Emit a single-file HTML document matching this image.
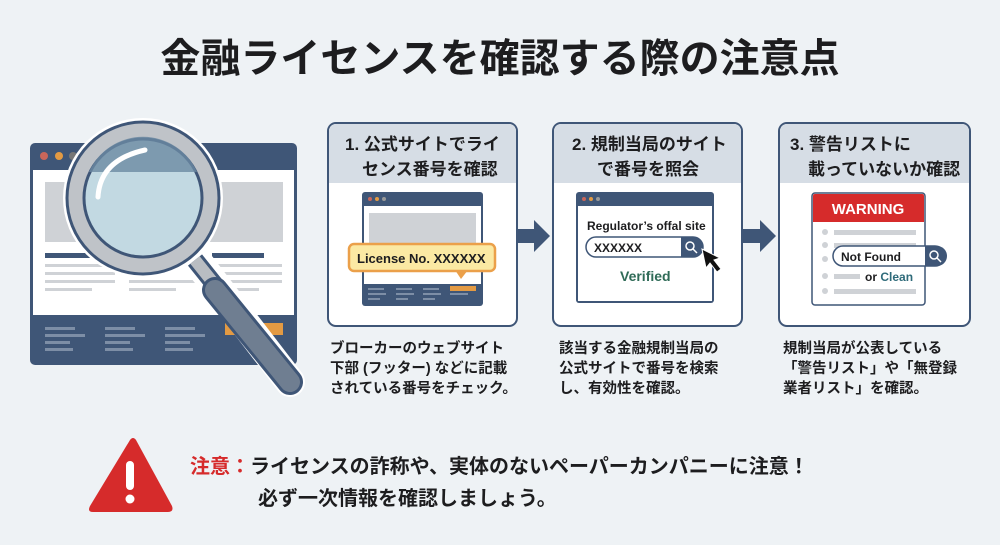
<!DOCTYPE html>
<html><head><meta charset="utf-8"><style>
html,body{margin:0;padding:0;background:#eef2f5;}
svg{display:block}
text{font-family:"Liberation Sans","Noto Sans CJK JP",sans-serif;font-weight:bold;fill:#1d1d1f}
</style></head><body>
<svg width="1000" height="545" viewBox="0 0 1000 545" xmlns="http://www.w3.org/2000/svg">
<rect width="1000" height="545" fill="#eef2f5"/>
<text x="500" y="72" font-size="40" text-anchor="middle" fill="#111">金融ライセンスを確認する際の注意点</text>

<!-- left browser -->
<rect x="30" y="143" width="267" height="222" rx="5" fill="#3f5677"/>
<rect x="33" y="170" width="261" height="145" fill="#fff"/>
<circle cx="44" cy="156" r="4" fill="#c8665a"/><circle cx="59" cy="156" r="4" fill="#e39a43"/><circle cx="73" cy="156" r="4" fill="#777"/>
<rect x="45" y="182" width="238" height="60" fill="#cfd2d6"/>
<rect x="45" y="253" width="80" height="5" fill="#3f5677"/><rect x="212" y="253" width="52" height="5" fill="#3f5677"/>
<g fill="#cfd2d6"><rect x="45" y="264" width="70" height="3"/><rect x="45" y="272" width="70" height="3"/><rect x="45" y="280" width="70" height="3"/><rect x="45" y="288" width="47" height="3"/>
<rect x="129" y="280" width="70" height="3"/><rect x="129" y="288" width="47" height="3"/>
<rect x="212" y="264" width="70" height="3"/><rect x="212" y="272" width="70" height="3"/><rect x="212" y="280" width="70" height="3"/><rect x="212" y="288" width="47" height="3"/></g>
<g fill="#7d8ea6"><rect x="45" y="327" width="30" height="3"/><rect x="45" y="334" width="40" height="3"/><rect x="45" y="341" width="25" height="3"/><rect x="45" y="348" width="28" height="3"/>
<rect x="105" y="327" width="30" height="3"/><rect x="105" y="334" width="40" height="3"/><rect x="105" y="341" width="25" height="3"/><rect x="105" y="348" width="28" height="3"/>
<rect x="165" y="327" width="30" height="3"/><rect x="165" y="334" width="40" height="3"/><rect x="165" y="341" width="25" height="3"/><rect x="165" y="348" width="28" height="3"/></g>
<rect x="225" y="323" width="58" height="12" fill="#e39a43"/>
<!-- magnifier -->
<line x1="200" y1="265" x2="290" y2="382" stroke="#fff" stroke-width="30" stroke-linecap="round"/>
<line x1="195" y1="260" x2="215" y2="285" stroke="#3f5677" stroke-width="18"/>
<line x1="195" y1="260" x2="215" y2="285" stroke="#b9bdc2" stroke-width="12"/>
<line x1="215" y1="290" x2="290" y2="382" stroke="#3f5677" stroke-width="26" stroke-linecap="round"/>
<line x1="215" y1="290" x2="290" y2="382" stroke="#6f7e91" stroke-width="20" stroke-linecap="round"/>
<circle cx="143" cy="198" r="80" fill="#fff"/>
<circle cx="143" cy="198" r="76" fill="#bfc3c8" stroke="#3f5677" stroke-width="3"/>
<circle cx="143" cy="198" r="59" fill="#c2d9e2" stroke="#3f5677" stroke-width="3"/>
<path d="M89 172 A59 59 0 0 1 197 172Z" fill="#6b89a3" opacity="0.8"/>
<path d="M98 197 Q100 160 145 150" stroke="#fff" stroke-width="5" fill="none" stroke-linecap="round"/>

<!-- cards -->
<g stroke="#3f5677" stroke-width="2">
<rect x="328" y="123" width="189" height="203" rx="8" fill="#fff"/>
<rect x="553" y="123" width="189" height="203" rx="8" fill="#fff"/>
<rect x="779" y="123" width="191" height="203" rx="8" fill="#fff"/>
</g>
<path d="M329 183 V131 a7 7 0 0 1 7 -7 H509 a7 7 0 0 1 7 7 V183Z" fill="#d6dde5"/>
<path d="M554 183 V131 a7 7 0 0 1 7 -7 H734 a7 7 0 0 1 7 7 V183Z" fill="#d6dde5"/>
<path d="M780 183 V131 a7 7 0 0 1 7 -7 H962 a7 7 0 0 1 7 7 V183Z" fill="#d6dde5"/>
<text font-size="17"><tspan x="345" y="150">1. 公式サイトでライ</tspan><tspan x="362" y="175">センス番号を確認</tspan></text>
<text font-size="17"><tspan x="572" y="150">2. 規制当局のサイト</tspan><tspan x="597" y="175">で番号を照会</tspan></text>
<text font-size="17"><tspan x="790" y="150">3. 警告リストに</tspan><tspan x="808" y="175">載っていないか確認</tspan></text>

<!-- arrows -->
<path d="M516 229 H534 V220 L550 236 L534 252 V243 H516Z" fill="#3f5677"/>
<path d="M742 229 H760 V220 L776 236 L760 252 V243 H742Z" fill="#3f5677"/>

<!-- card1 browser -->
<rect x="362" y="192" width="121" height="114" rx="3" fill="#3f5677"/>
<rect x="364" y="206" width="117" height="78" fill="#fff"/>
<circle cx="370" cy="199" r="2" fill="#c8665a"/><circle cx="377" cy="199" r="2" fill="#e39a43"/><circle cx="384" cy="199" r="2" fill="#999"/>
<rect x="369" y="213" width="107" height="40" fill="#cfd2d6"/>
<g fill="#7d8ea6"><rect x="368" y="288" width="16" height="2"/><rect x="368" y="293" width="18" height="2"/><rect x="368" y="298" width="12" height="2"/>
<rect x="396" y="288" width="16" height="2"/><rect x="396" y="293" width="18" height="2"/><rect x="396" y="298" width="12" height="2"/>
<rect x="423" y="288" width="16" height="2"/><rect x="423" y="293" width="18" height="2"/><rect x="423" y="298" width="12" height="2"/><rect x="450" y="293" width="18" height="2"/></g>
<rect x="450" y="286" width="26" height="5" fill="#e39a43"/>
<rect x="349" y="244" width="146" height="27" rx="5" fill="#fbe9a3" stroke="#eba04a" stroke-width="2.5"/>
<path d="M455 270 L468 270 L461 279Z" fill="#eba04a"/>
<text x="357" y="263" font-size="13">License No. XXXXXX</text>

<!-- card2 browser -->
<rect x="576" y="192" width="138" height="111" rx="3" fill="#3f5677"/>
<rect x="578" y="206" width="134" height="95" fill="#fff"/>
<circle cx="584" cy="199" r="2" fill="#c8665a"/><circle cx="591" cy="199" r="2" fill="#e39a43"/><circle cx="598" cy="199" r="2" fill="#999"/>
<text x="587" y="230" font-size="12">Regulator’s offal site</text>
<rect x="586" y="237" width="117" height="20" rx="10" fill="#fff" stroke="#3f5677" stroke-width="1.5"/>
<path d="M681 237 H693 a10 10 0 0 1 0 20 H681Z" fill="#3f5677"/>
<circle cx="690" cy="246" r="4" fill="none" stroke="#fff" stroke-width="1.5"/><line x1="693" y1="249" x2="697" y2="253" stroke="#fff" stroke-width="1.5"/>
<text x="594" y="252" font-size="12">XXXXXX</text>
<text x="620" y="281" font-size="14" style="fill:#2f6b57">Verified</text>
<path d="M702 249 L706 268 L710 263 L717 272 L721 269 L714 260 L720 258Z" fill="#111" stroke="#fff" stroke-width="1"/>

<!-- card3 warning -->
<rect x="812" y="193" width="113" height="112" rx="3" fill="#fff" stroke="#3f5677" stroke-width="1.5"/>
<path d="M813 222 V196 a2 2 0 0 1 2 -2 H922 a2 2 0 0 1 2 2 V222Z" fill="#d62b2b"/>
<text x="868" y="214" font-size="15" text-anchor="middle" style="fill:#fff">WARNING</text>
<g fill="#cfd2d6"><circle cx="825" cy="232" r="3"/><circle cx="825" cy="245" r="3"/><circle cx="825" cy="259" r="3"/><circle cx="825" cy="276" r="3"/><circle cx="825" cy="291" r="3"/>
<rect x="834" y="230" width="82" height="5"/><rect x="834" y="243" width="82" height="5"/><rect x="834" y="274" width="26" height="5"/><rect x="834" y="289" width="82" height="5"/></g>
<rect x="833" y="246" width="112" height="20" rx="10" fill="#fff" stroke="#3f5677" stroke-width="1.5"/>
<path d="M925 246 H937 a10 10 0 0 1 0 20 H925Z" fill="#3f5677"/>
<circle cx="934" cy="255" r="4" fill="none" stroke="#fff" stroke-width="1.5"/><line x1="937" y1="258" x2="941" y2="262" stroke="#fff" stroke-width="1.5"/>
<text x="841" y="261" font-size="12">Not Found</text>
<text x="865" y="281" font-size="12">or <tspan style="fill:#2f6b7a">Clean</tspan></text>

<!-- descriptions -->
<text font-size="14.5"><tspan x="330" y="353">ブローカーのウェブサイト</tspan><tspan x="330" y="373">下部 (フッター) などに記載</tspan><tspan x="330" y="393">されている番号をチェック。</tspan></text>
<text font-size="14.5"><tspan x="559" y="353">該当する金融規制当局の</tspan><tspan x="559" y="373">公式サイトで番号を検索</tspan><tspan x="559" y="393">し、有効性を確認。</tspan></text>
<text font-size="14.5"><tspan x="783" y="353">規制当局が公表している</tspan><tspan x="783" y="373">「警告リスト」や「無登録</tspan><tspan x="783" y="393">業者リスト」を確認。</tspan></text>

<!-- bottom -->
<path d="M130 440 Q133 436 136 440 L172 506 Q174 512 168 512 L93 512 Q87 512 90 506Z" fill="#d62b2b"/>
<rect x="126" y="461" width="8" height="29" rx="4" fill="#fff"/>
<circle cx="130" cy="499" r="4.5" fill="#fff"/>
<text x="190" y="473" font-size="20"><tspan style="fill:#d62b2b">注意：</tspan>ライセンスの詐称や、実体のないペーパーカンパニーに注意！</text>
<text x="258" y="505" font-size="20">必ず一次情報を確認しましょう。</text>
</svg>
</body></html>
